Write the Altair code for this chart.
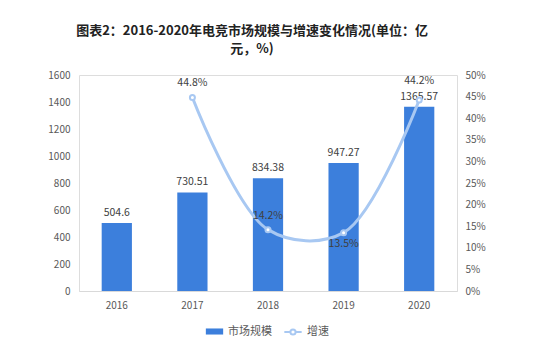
import altair as alt
import pandas as pd

years = ["2016", "2017", "2018", "2019", "2020"]
market = [504.6, 730.51, 834.38, 947.27, 1365.57]
market_labels = ["504.6", "730.51", "834.38", "947.27", "1365.57"]
growth_years = ["2017", "2018", "2019", "2020"]
growth = [44.8, 14.2, 13.5, 44.2]
growth_labels = ["44.8%", "14.2%", "13.5%", "44.2%"]
left_ticks = [0, 200, 400, 600, 800, 1000, 1200, 1400, 1600]
right_ticks = [0, 5, 10, 15, 20, 25, 30, 35, 40, 45, 50]

bar_df = pd.DataFrame({"year": years, "value": market, "label": market_labels, "series": "市场规模"})
line_df = pd.DataFrame({"year": growth_years, "rate": growth, "label": growth_labels, "series": "增速"})

FONT = "Noto Sans CJK SC"
BAR = "#3c7fdc"
LINE = "#a8c8f2"
GRAY = "#595959"

x = alt.X("year:N", sort=years, title=None,
          scale=alt.Scale(paddingInner=0.6, paddingOuter=0.3),
          axis=alt.Axis(labelAngle=0, ticks=False, domainColor="#d9d9d9",
                        labelColor=GRAY, labelFontSize=10, labelPadding=9, labelFont=FONT))

y_left = alt.Y("value:Q", title=None,
               scale=alt.Scale(domain=[0, 1600]),
               axis=alt.Axis(values=left_ticks, grid=False, ticks=False, domain=False,
                             format="d", labelOverlap=False,
                             labelColor=GRAY, labelFontSize=10, labelPadding=9, labelFont=FONT))

bars = alt.Chart(bar_df).mark_bar(color=BAR).encode(
    x=x,
    y=y_left,
    color=alt.Color("series:N", scale=alt.Scale(domain=["市场规模"], range=[BAR]),
                    legend=alt.Legend(title=None, orient="none", legendX=126, legendY=247,
                                      direction="horizontal",
                                      symbolType="M-1,-0.35H1V0.35H-1Z", symbolSize=300,
                                      labelFont=FONT, labelFontSize=11, labelColor=GRAY)),
)

bar_text = alt.Chart(bar_df).mark_text(dy=-10, fontSize=10.5, color="#404040", font=FONT).encode(
    x=x,
    y=y_left,
    text="label:N",
)

left = alt.layer(bars, bar_text)

y_right = alt.Y("rate:Q", title=None,
                scale=alt.Scale(domain=[0, 50]),
                axis=alt.Axis(orient="right", values=right_ticks, grid=False, ticks=False, domain=False,
                              labelExpr="datum.value + '%'", labelOverlap=False,
                              labelColor=GRAY, labelFontSize=10, labelPadding=8, labelFont=FONT))

line = alt.Chart(line_df).mark_line(strokeWidth=3, interpolate="catmull-rom").encode(
    x=x,
    y=y_right,
    stroke=alt.Stroke("series:N", scale=alt.Scale(domain=["增速"], range=[LINE]),
                      legend=alt.Legend(title=None, orient="none", legendX=204, legendY=247,
                                        direction="horizontal",
                                        symbolType="M-1,0H-0.3M0.3,0H1M0.3,0A0.3,0.3 0 1 1 -0.3,0A0.3,0.3 0 1 1 0.3,0",
                                        symbolSize=300, symbolStrokeWidth=2,
                                        labelFont=FONT, labelFontSize=11, labelColor=GRAY)),
)

pts = alt.Chart(line_df).mark_point(filled=True, fill="white", stroke=LINE, strokeWidth=2, size=25, opacity=1).encode(
    x=x,
    y=y_right,
)

def gtext(filt, dy):
    return alt.Chart(line_df).transform_filter(filt).mark_text(
        dy=dy, fontSize=10.5, color="#404040", font=FONT).encode(
        x=x,
        y=y_right,
        text="label:N",
    )

right = alt.layer(
    line, pts,
    gtext("datum.year == '2017' || datum.year == '2018'", -14),
    gtext("datum.year == '2020'", -19),
    gtext("datum.year == '2019'", 11),
)

chart = alt.layer(left, right).resolve_scale(y="independent", color="independent").properties(
    width=378,
    height=216,
    padding={"left": 79, "top": 75, "right": 97, "bottom": 63},
    autosize=alt.AutoSizeParams(type="none"),
    title=alt.TitleParams(
        text=["图表2：2016-2020年电竞市场规模与增速变化情况(单位：亿", "元，%)"],
        font=FONT, fontSize=13, fontWeight="bold", color="#222222",
        anchor="middle", dx=-16, offset=14, lineHeight=18,
    ),
).configure_view(stroke=None).configure(background="white")

chart.save("out.html", embed_options={"renderer": "svg", "actions": False})
